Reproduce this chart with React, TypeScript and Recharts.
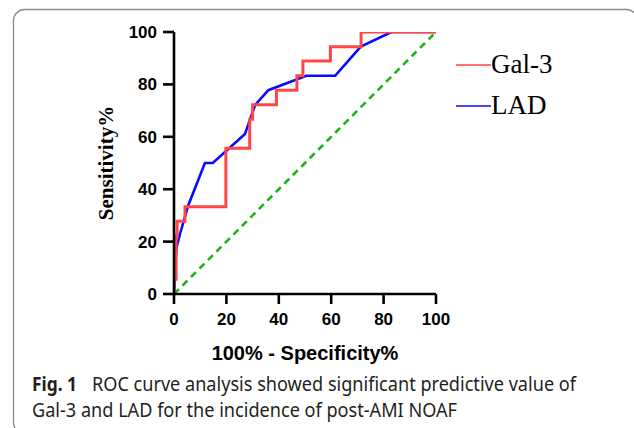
import React from 'react';
import { ComposedChart, Line, XAxis, YAxis, Legend } from 'recharts';

const xTicks = [0, 20, 40, 60, 80, 100];
const yTicks = [0, 20, 40, 60, 80, 100];

const gal3Fpr = [0, 0, 0.8, 0.8, 1.2, 1.2, 4.2, 4.2, 19.8, 19.8, 28.9, 28.9, 30, 30, 39.1, 39.1, 46.9, 46.9, 49.2, 49.2, 59.7, 59.7, 71.4, 71.4, 100];
const gal3Tpr = [0, 5.6, 5.6, 22.2, 22.2, 27.8, 27.8, 33.3, 33.3, 55.6, 55.6, 66.7, 66.7, 72.2, 72.2, 77.8, 77.8, 83.3, 83.3, 88.9, 88.9, 94.4, 94.4, 100, 100];

const ladFpr = [0, 0.4, 1, 2.3, 5.5, 11.8, 14.8, 27.1, 31, 36, 50.5, 61.5, 71.3, 83, 100];
const ladTpr = [0, 11, 18, 23, 34, 50, 50, 61.1, 72.2, 77.8, 83.3, 83.3, 94.4, 100, 100];

const refFpr = [0, 100];
const refTpr = [0, 100];

const seriesNames = ['Gal-3', 'LAD'];
const seriesColors = ['#ff4646', '#0a0aff'];

const toPoints = (xs: number[], ys: number[]) => xs.map((x, i) => ({ x, y: ys[i] }));

const gal3Data = toPoints(gal3Fpr, gal3Tpr);
const ladData = toPoints(ladFpr, ladTpr);
const refData = toPoints(refFpr, refTpr);

const tickStyle = { fontSize: 17, fontWeight: 'bold', fill: '#000', fontFamily: '"Liberation Sans", Arial, sans-serif' };

const LegendContent = () => (
  <div style={{ display: 'flex', flexDirection: 'column' }}>
    {seriesNames.map((n, i) => (
      <div key={n} style={{ display: 'flex', alignItems: 'center', height: 41 }}>
        <svg width={35} height={4} style={{ display: 'block' }}>
          <line x1={0} x2={35} y1={2} y2={2} stroke={seriesColors[i]} strokeWidth={1.6} />
        </svg>
        <span style={{ fontFamily: '"Liberation Serif", "Times New Roman", serif', fontSize: 27, lineHeight: '41px', color: '#000' }}>{n}</span>
      </div>
    ))}
  </div>
);

export default function App() {
  return (
    <div style={{ position: 'fixed', left: 0, top: 0, width: 634, height: 428, background: '#fff', overflow: 'hidden' }}>
      <svg width={634} height={428} style={{ position: 'absolute', left: 0, top: 0 }}>
        <rect x={13.5} y={9.5} width={624} height={424} rx={11} ry={11} fill="none" stroke="#8a8a8a" strokeWidth={1.3} />
        <g fontFamily='"Noto Sans", "Open Sans", sans-serif' fontSize={20} fill="#231f20">
          <text x={32} y={391} fontWeight="bold" textLength={45} lengthAdjust="spacingAndGlyphs">Fig. 1</text>
          <text x={92} y={391} textLength={484} lengthAdjust="spacingAndGlyphs">ROC curve analysis showed significant predictive value of</text>
          <text x={32} y={417} textLength={425} lengthAdjust="spacingAndGlyphs">Gal-3 and LAD for the incidence of post-AMI NOAF</text>
        </g>
      </svg>
      <div style={{ position: 'absolute', left: 0, top: 0 }}>
        <ComposedChart width={634} height={428} margin={{ top: 32, left: 114, right: 198, bottom: 70 }}>
          <XAxis
            dataKey="x"
            type="number"
            domain={[0, 100]}
            ticks={xTicks}
            height={64}
            tickSize={10}
            tickMargin={9}
            tick={tickStyle}
            axisLine={{ stroke: '#000', strokeWidth: 2.6 }}
            tickLine={{ stroke: '#000', strokeWidth: 2.6 }}
            allowDataOverflow
            label={{
              value: '100% - Specificity%',
              position: 'insideBottom',
              offset: -2,
              style: { fontSize: 20, fontWeight: 'bold', fill: '#000', fontFamily: '"Liberation Sans", Arial, sans-serif' },
            }}
          />
          <YAxis
            dataKey="y"
            type="number"
            domain={[0, 100]}
            ticks={yTicks}
            width={60}
            tickSize={11}
            tickMargin={6}
            tick={tickStyle}
            axisLine={{ stroke: '#000', strokeWidth: 2.6 }}
            tickLine={{ stroke: '#000', strokeWidth: 2.6 }}
            allowDataOverflow
            label={{
              value: 'Sensitivity%',
              angle: -90,
              position: 'insideLeft',
              offset: -8,
              style: { textAnchor: 'middle', fontSize: 21, fontWeight: 'bold', fill: '#000', fontFamily: '"Liberation Serif", "Times New Roman", serif' },
            }}
          />
          <Legend
            layout="horizontal"
            verticalAlign="middle"
            align="center"
            wrapperStyle={{ left: 456, top: 44, width: 170 }}
            content={<LegendContent />}
          />
          <Line data={refData} dataKey="y" type="linear" stroke="#1db31d" strokeWidth={2.6} strokeDasharray="7 5" dot={false} isAnimationActive={false} legendType="none" />
          <Line data={ladData} dataKey="y" name="LAD" type="linear" stroke={seriesColors[1]} strokeWidth={2.6} dot={false} isAnimationActive={false} />
          <Line data={gal3Data} dataKey="y" name="Gal-3" type="linear" stroke={seriesColors[0]} strokeWidth={3} dot={false} isAnimationActive={false} />
        </ComposedChart>
      </div>
    </div>
  );
}
